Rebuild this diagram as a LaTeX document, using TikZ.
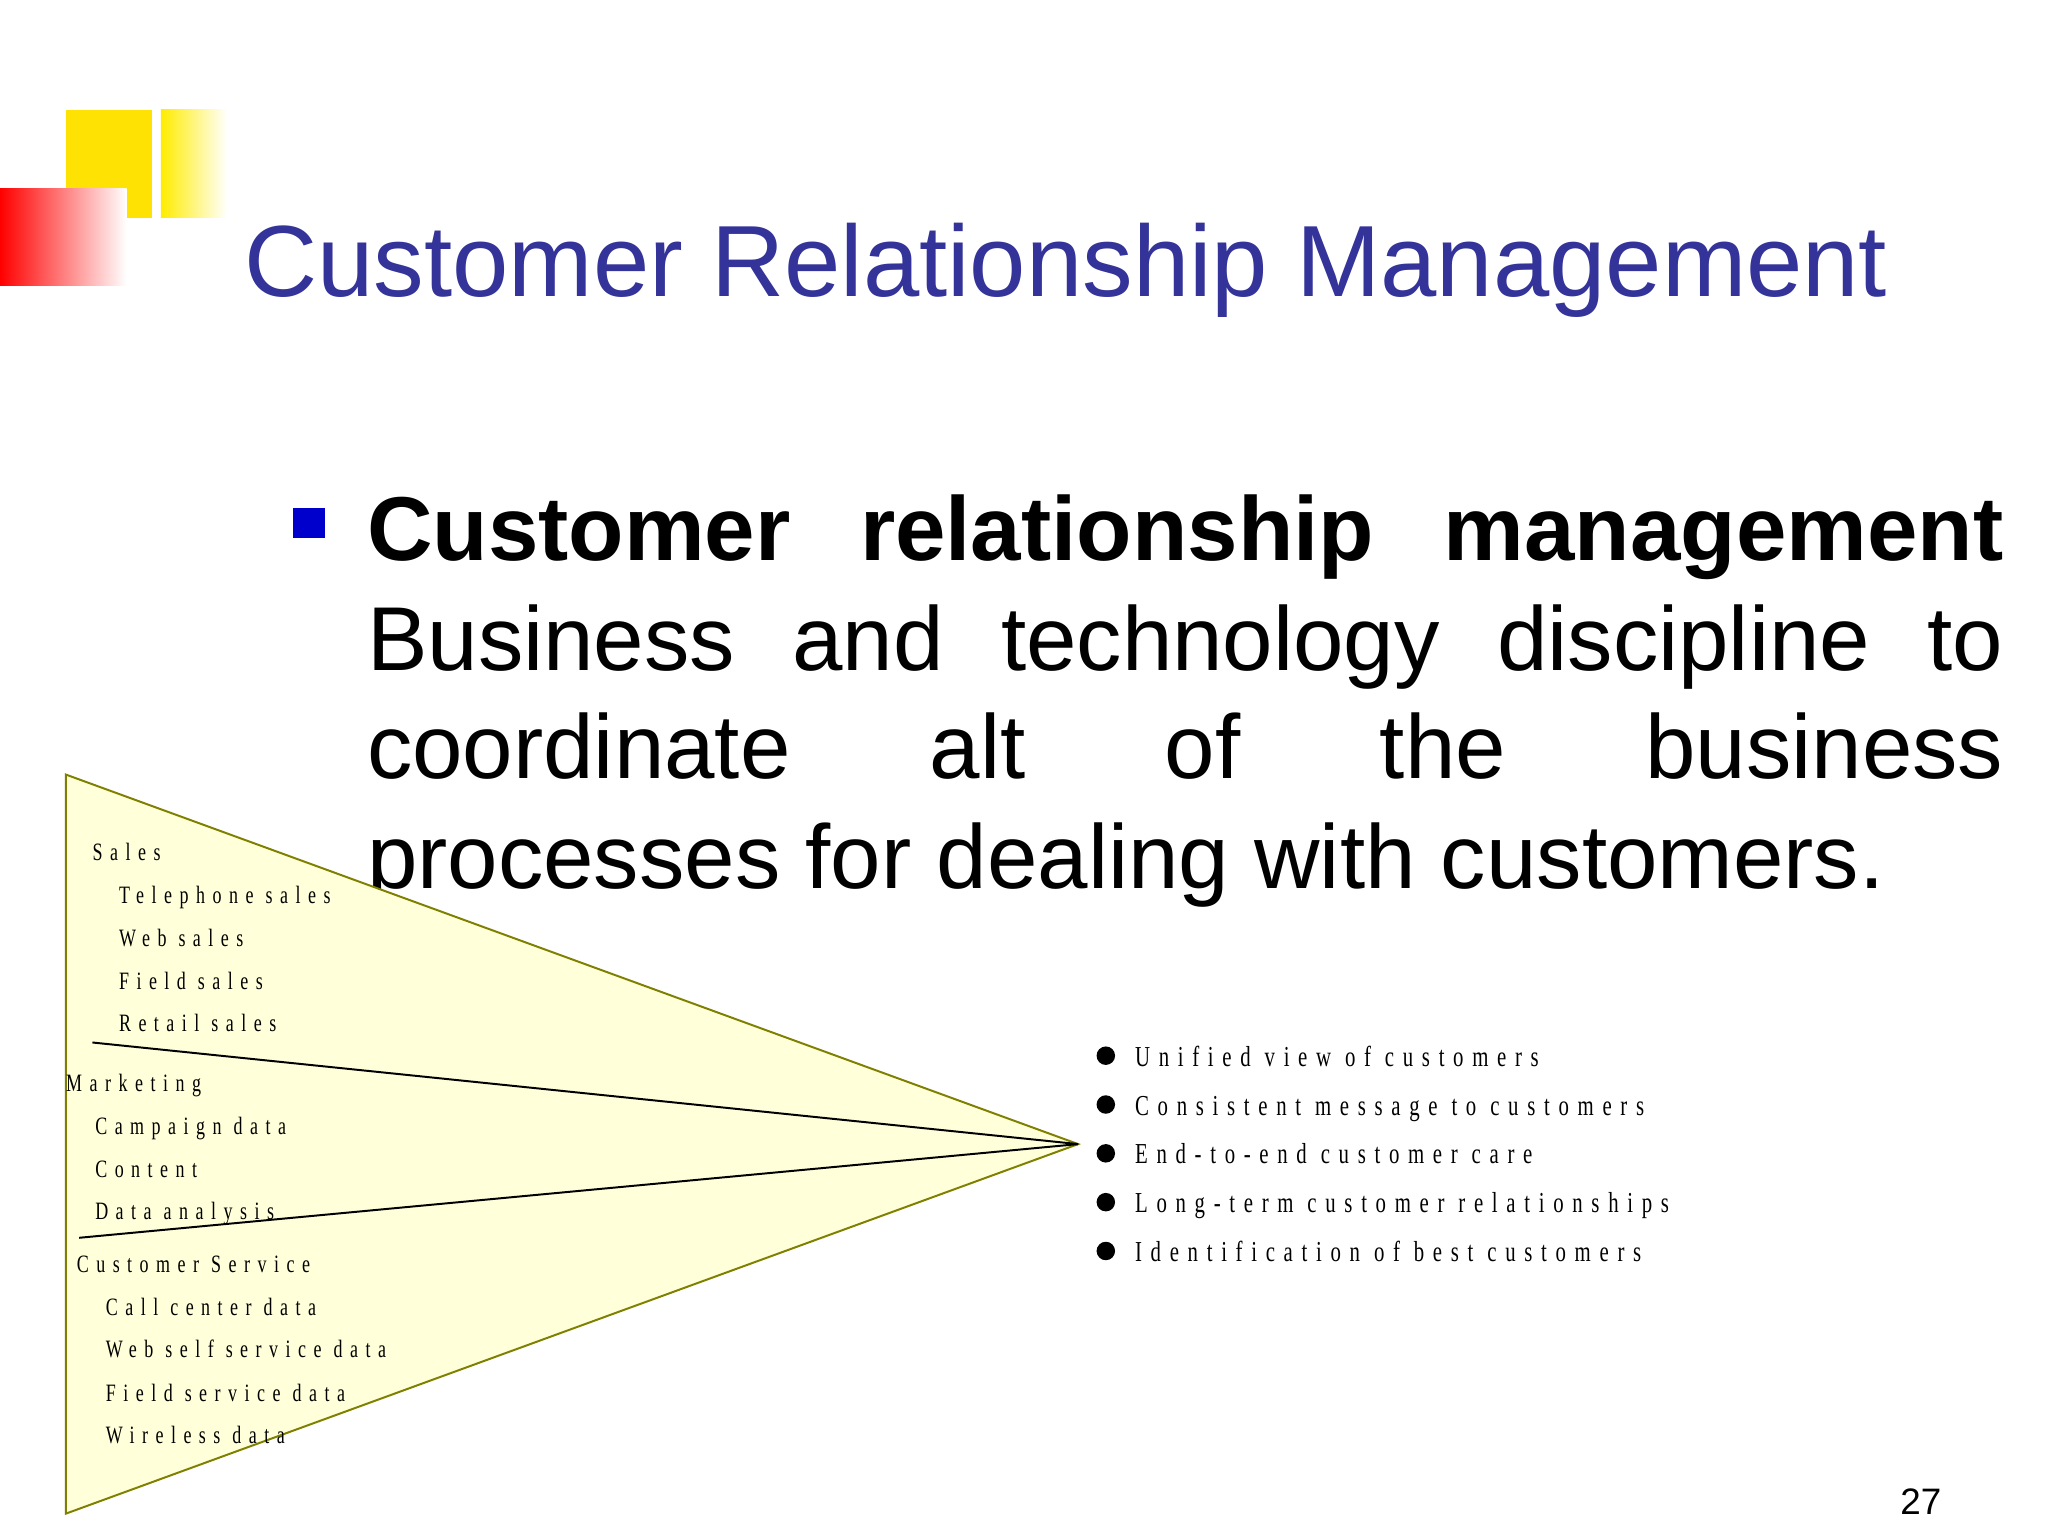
\documentclass[tikz,border=0pt]{standalone}
\usepackage{fontspec}
\setmainfont{Liberation Sans}
\newfontfamily\spc[LetterSpace=30,FakeStretch=0.72]{Liberation Serif}
\definecolor{titleblue}{RGB}{51,51,153}
\definecolor{triyel}{RGB}{255,255,218}
\definecolor{olive2}{RGB}{128,128,0}
\tikzset{
  lt/.style={anchor=base west,inner sep=0pt,font=\spc\fontsize{19}{19}\selectfont},
  rt/.style={anchor=base west,inner sep=0pt,font=\spc\fontsize{22}{22}\selectfont},
  dot/.style={circle,fill=black,inner sep=0pt,minimum size=14bp},
  bl/.style={anchor=base west,inner sep=0pt,font=\fontsize{69}{69}\selectfont}
}
\newcommand{\jline}[1]{\hbox to 1240bp{#1}}
\begin{document}
\begin{tikzpicture}[x=1bp,y=-1bp]
\useasboundingbox (0,0) rectangle (1552,1164);
\fill[white] (0,0) rectangle (1552,1164);
% logo
\fill[yellow!85!orange] (50,83) rectangle (115,165);
\shade[left color=yellow!85!orange, right color=white] (122,83) rectangle (172,165);
\shade[shading angle=60, left color=red, right color=white] (0,143) rectangle (96,216);
\node[anchor=base west,inner sep=0pt,text=titleblue,font=\fontsize{77}{77}\selectfont] (title) at (185,225) {Customer Relationship Management};
\fill[blue!80!black] (222,385) rectangle (246,408) coordinate (bul);
\node[bl] (b1) at (278,425) {\jline{\textbf{Customer}\hfill\textbf{relationship}\hfill\textbf{management}}};
\node[bl] (b2) at (278,508) {\jline{Business\hfill and\hfill technology\hfill discipline\hfill to}};
\node[bl] (b3) at (278,590) {\jline{coordinate\hfill alt\hfill of\hfill the\hfill business}};
\node[bl] (b4) at (278,673) {processes for dealing with customers.};
% triangle
\coordinate (A) at (50,587); \coordinate (B) at (50,1147); \coordinate (C) at (817,867);
\filldraw[fill=triyel,draw=olive2,line width=1.5pt] (A) -- (C) -- (B) -- cycle;
\coordinate (L1) at (70,790); \coordinate (L2) at (60,938);
\draw[line width=1.5pt] (L1) -- (C);
\draw[line width=1.5pt] (L2) -- (C);
\node[lt] (s0) at (70,652) {Sales};
\node[lt] (s1) at (90,685) {Telephone sales};
\node[lt] (s2) at (90,717) {Web sales};
\node[lt] (s3) at (90,750) {Field sales};
\node[lt] (s4) at (90,782) {Retail sales};
\node[lt] (m0) at (50,827) {Marketing};
\node[lt] (m1) at (72,860) {Campaign data};
\node[lt] (m2) at (72,892) {Content};
\node[lt] (m3) at (72,924) {Data analysis};
\node[lt] (c0) at (58,964) {Customer Service};
\node[lt] (c1) at (80,997) {Call center data};
\node[lt] (c2) at (80,1029) {Web self service data};
\node[lt] (c3) at (80,1062) {Field service data};
\node[lt] (c4) at (80,1094) {Wireless data};
% right list
\foreach \y/\t [count=\i] in {800/Unified view of customers,837/Consistent message to customers,874/End-to-end customer care,911/Long-term customer relationships,948/Identification of best customers}{
  \node[dot] (d\i) at (838,\y) {};
  \node[rt] (r\i) at (860,\y+8) {\t};
}
\node[anchor=base west,inner sep=0pt,font=\fontsize{28}{28}\selectfont] (pg) at (1440,1148) {27};
\end{tikzpicture}
\end{document}
